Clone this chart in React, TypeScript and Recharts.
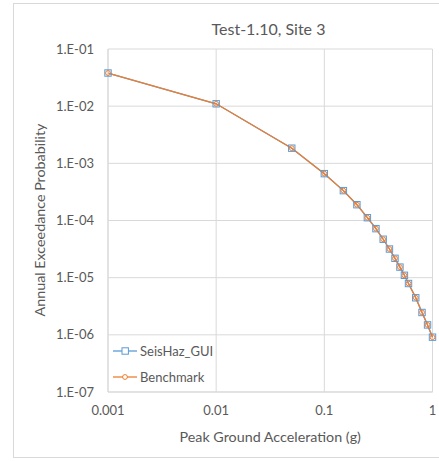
import React from 'react';
import { LineChart, Line, XAxis, YAxis, CartesianGrid, Label } from 'recharts';

// Peak ground acceleration levels (g)
const pga = [0.001, 0.01, 0.05, 0.1, 0.15, 0.2, 0.25, 0.3, 0.35, 0.4, 0.45, 0.5, 0.55, 0.6, 0.7, 0.8, 0.9, 1.0];

// Annual exceedance probability, SeisHaz_GUI result
const seisHaz = [3.8e-2, 1.1e-2, 1.84e-3, 6.6e-4, 3.33e-4, 1.89e-4, 1.12e-4, 7.2e-5, 4.7e-5, 3.17e-5, 2.18e-5, 1.53e-5, 1.1e-5, 7.9e-6, 4.45e-6, 2.46e-6, 1.49e-6, 9.1e-7];

// Annual exceedance probability, benchmark solution
const benchmark = [3.8e-2, 1.1e-2, 1.84e-3, 6.6e-4, 3.33e-4, 1.89e-4, 1.12e-4, 7.2e-5, 4.7e-5, 3.17e-5, 2.18e-5, 1.53e-5, 1.1e-5, 7.9e-6, 4.45e-6, 2.46e-6, 1.49e-6, 9.1e-7];

const xTicks = [0.001, 0.01, 0.1, 1];
const xTickLabels = ['0.001', '0.01', '0.1', '1'];
const yTicks = [1e-7, 1e-6, 1e-5, 1e-4, 1e-3, 1e-2, 1e-1];
const yTickLabels = ['1.E-07', '1.E-06', '1.E-05', '1.E-04', '1.E-03', '1.E-02', '1.E-01'];

const title = 'Test-1.10, Site 3';
const xTitle = 'Peak Ground Acceleration (g)';
const yTitle = 'Annual Exceedance Probability';
const seriesNames = ['SeisHaz_GUI', 'Benchmark'];

const BLUE = '#5B9BD5';
const ORANGE = '#ED7D31';
const TEXT = '#595959';
const GRID = '#D9D9D9';
const FONT = 'Lato, "Open Sans", sans-serif';

const data = pga.map((x, i) => ({ x, seisHaz: seisHaz[i], benchmark: benchmark[i] }));

const SquareDot = (props: any) => {
  const { cx, cy, index } = props;
  if (cx == null || cy == null) return <g key={`sq-${index}`} />;
  return (
    <rect key={`sq-${index}`} x={cx - 3.2} y={cy - 3.2} width={6.4} height={6.4} fill="none" stroke={BLUE} strokeWidth={1} />
  );
};

const CircleDot = (props: any) => {
  const { cx, cy, index } = props;
  if (cx == null || cy == null) return <g key={`ci-${index}`} />;
  return <circle key={`ci-${index}`} cx={cx} cy={cy} r={2.4} fill="none" stroke={ORANGE} strokeWidth={1} />;
};

const LegendBox = () => (
  <div style={{ fontFamily: FONT, fontSize: 13, color: TEXT }}>
    {seriesNames.map((name, i) => (
      <div key={name} style={{ display: 'flex', alignItems: 'center', height: 26 }}>
        <svg width={25} height={10} style={{ marginRight: 2 }}>
          <line x1={0} y1={5} x2={24} y2={5} stroke={i === 0 ? BLUE : ORANGE} strokeWidth={1.3} />
          {i === 0 ? (
            <rect x={9} y={1.8} width={6.4} height={6.4} fill="#fff" stroke={BLUE} strokeWidth={1} />
          ) : (
            <circle cx={12} cy={5} r={2.4} fill="#fff" stroke={ORANGE} strokeWidth={1} />
          )}
        </svg>
        <span>{name}</span>
      </div>
    ))}
  </div>
);

export default function App() {
  return (
    <div style={{ position: 'absolute', left: 0, top: 0, width: 439, height: 461, background: '#fff', overflow: 'hidden' }}>
      <div
        style={{
          position: 'absolute',
          left: 13,
          top: 3,
          width: 440,
          height: 455,
          border: `1px solid ${GRID}`,
          boxSizing: 'border-box',
        }}
      />
      <div
        style={{
          position: 'absolute',
          left: 0,
          width: 537,
          top: 19,
          textAlign: 'center',
          fontFamily: FONT,
          fontSize: 16,
          color: TEXT,
          lineHeight: '20px',
        }}
      >
        {title}
      </div>
      <LineChart
        width={439}
        height={461}
        data={data}
        margin={{ top: 49, right: 6.5, bottom: 39, left: 48 }}
        style={{ position: 'absolute', left: 0, top: 0 }}
      >
        <CartesianGrid stroke={GRID} strokeWidth={1} horizontalValues={yTicks} verticalValues={xTicks} />
        <XAxis
          dataKey="x"
          type="number"
          scale="log"
          domain={[0.001, 1]}
          ticks={xTicks}
          tickFormatter={(v: number) => xTickLabels[xTicks.indexOf(v)] ?? String(v)}
          height={30}
          axisLine={{ stroke: GRID }}
          tickLine={false}
          tickSize={0}
          tickMargin={14}
          tick={{ fill: TEXT, fontSize: 13, fontFamily: FONT }}
        >
          <Label
            value={xTitle}
            content={(p: any) => {
              const vb = p.viewBox || {};
              return (
                <text
                  x={vb.x + vb.width / 2}
                  y={436}
                  textAnchor="middle"
                  dominantBaseline="central"
                  fill={TEXT}
                  fontSize={14.3}
                  fontFamily={FONT}
                >
                  {xTitle}
                </text>
              );
            }}
          />
        </XAxis>
        <YAxis
          type="number"
          scale="log"
          domain={[1e-7, 1e-1]}
          ticks={yTicks}
          tickFormatter={(v: number) => {
            const i = yTicks.findIndex((t) => Math.abs(Math.log10(t) - Math.log10(v)) < 1e-6);
            return i >= 0 ? yTickLabels[i] : String(v);
          }}
          width={60}
          axisLine={{ stroke: GRID }}
          tickLine={false}
          tickSize={0}
          tickMargin={14}
          tick={{ fill: TEXT, fontSize: 13, fontFamily: FONT }}
        >
          <Label
            value={yTitle}
            content={() => (
              <text
                x={39}
                y={220}
                transform="rotate(-90, 39, 220)"
                textAnchor="middle"
                dominantBaseline="central"
                fill={TEXT}
                fontSize={14.3}
                fontFamily={FONT}
              >
                {yTitle}
              </text>
            )}
          />
        </YAxis>
        <Line
          name={seriesNames[0]}
          dataKey="seisHaz"
          stroke={BLUE}
          strokeWidth={1.3}
          dot={SquareDot}
          activeDot={false}
          isAnimationActive={false}
        />
        <Line
          name={seriesNames[1]}
          dataKey="benchmark"
          stroke={ORANGE}
          strokeWidth={1.3}
          dot={CircleDot}
          activeDot={false}
          isAnimationActive={false}
        />
      </LineChart>
      <div style={{ position: 'absolute', left: 113, top: 338 }}>
        <LegendBox />
      </div>
    </div>
  );
}
